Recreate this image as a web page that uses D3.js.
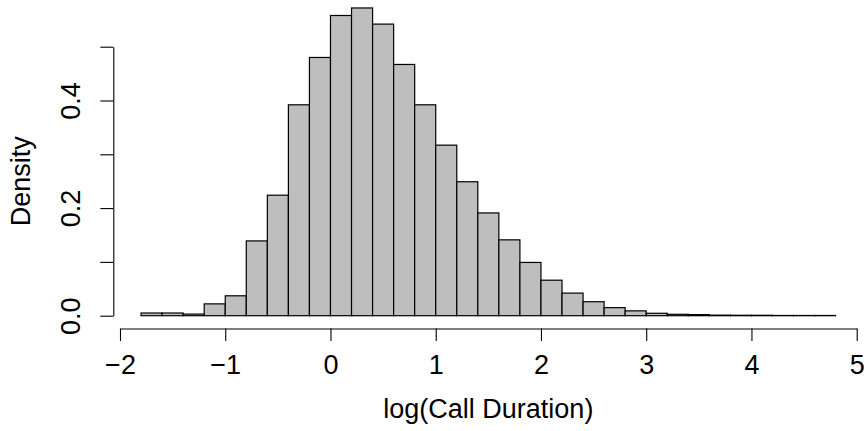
<!DOCTYPE html>
<html>
<head>
<meta charset="utf-8">
<script src="https://cdn.jsdelivr.net/npm/d3@7"></script>
<style>
  body { margin: 0; background: #fff; }
  text { font-family: "Liberation Sans", Arial, Helvetica, sans-serif; fill: #000; }
</style>
</head>
<body>
<div id="hist"></div>
<script>
// bin left edges (width 0.2) and density heights
const bin_starts = [-1.8, -1.6, -1.4, -1.2, -1.0, -0.8, -0.6, -0.4, -0.2, 0.0,
    0.2, 0.4, 0.6, 0.8, 1.0, 1.2, 1.4, 1.6, 1.8, 2.0,
    2.2, 2.4, 2.6, 2.8, 3.0, 3.2, 3.4, 3.6, 3.8, 4.0,
    4.2, 4.4, 4.6];
const densities = [0.005, 0.005, 0.003, 0.022, 0.037, 0.139, 0.224, 0.392, 0.480, 0.558,
    0.572, 0.542, 0.467, 0.392, 0.317, 0.249, 0.191, 0.141, 0.099, 0.066,
    0.042, 0.026, 0.015, 0.009, 0.0045, 0.0026, 0.002, 0.001, 0.0008, 0.0008,
    0.0004, 0.0004, 0.0004];
const bin_width = 0.2;
const x_ticks = [-2, -1, 0, 1, 2, 3, 4, 5];
const y_ticks = [0, 0.1, 0.2, 0.3, 0.4, 0.5];
const y_labelled = [0, 0.2, 0.4];

const width = 864, height = 431;
const font_size = 27;

var svg = d3.select("#hist")
    .append("svg")
    .attr("width", width)
    .attr("height", height);

var x = d3.scaleLinear()
    .domain([-2, 5])
    .range([120, 856.7]);

var y = d3.scaleLinear()
    .domain([0, 0.5])
    .range([315.7, 46.7]);

const data = bin_starts.map((b, i) => ({ x0: b, x1: b + bin_width, d: densities[i] }));

// bars
svg.append("g")
    .selectAll("rect")
    .data(data)
    .enter().append("rect")
    .attr("x", d => x(d.x0))
    .attr("y", d => y(d.d))
    .attr("width", d => x(d.x1) - x(d.x0))
    .attr("height", d => y(0) - y(d.d))
    .attr("fill", "#bebebe")
    .attr("stroke", "#000")
    .attr("stroke-width", 1.2);

// x axis
var xAxis = svg.append("g")
    .attr("transform", "translate(0,328.5)")
    .call(d3.axisBottom(x)
        .tickValues(x_ticks)
        .tickSize(12.5)
        .tickSizeOuter(0)
        .tickPadding(14)
        .tickFormat(d => d < 0 ? "\u2212" + Math.abs(d) : d));
xAxis.selectAll("text").attr("font-size", font_size).attr("font-family", null);
xAxis.selectAll("line, path").attr("stroke", "#000").attr("stroke-width", 1.1);

// y axis
var yAxis = svg.append("g")
    .attr("transform", "translate(113.3,0)")
    .call(d3.axisLeft(y)
        .tickValues(y_ticks)
        .tickSize(13)
        .tickSizeOuter(0)
        .tickFormat(d => y_labelled.some(v => Math.abs(v - d) < 1e-9) ? d3.format(".1f")(d) : ""));
yAxis.selectAll("line, path").attr("stroke", "#000").attr("stroke-width", 1.1);
yAxis.selectAll("text")
    .attr("font-size", font_size)
    .attr("font-family", null)
    .attr("text-anchor", "middle")
    .attr("dy", null)
    .attr("x", null)
    .attr("transform", "translate(-33.5,0) rotate(-90)");

// axis titles
svg.append("text")
    .attr("x", (x(-2) + x(5)) / 2)
    .attr("y", 418)
    .attr("text-anchor", "middle")
    .attr("font-size", font_size)
    .text("log(Call Duration)");

svg.append("text")
    .attr("transform", "translate(30," + (y(0) + y(0.5)) / 2 + ") rotate(-90)")
    .attr("text-anchor", "middle")
    .attr("font-size", font_size)
    .text("Density");
</script>
</body>
</html>
